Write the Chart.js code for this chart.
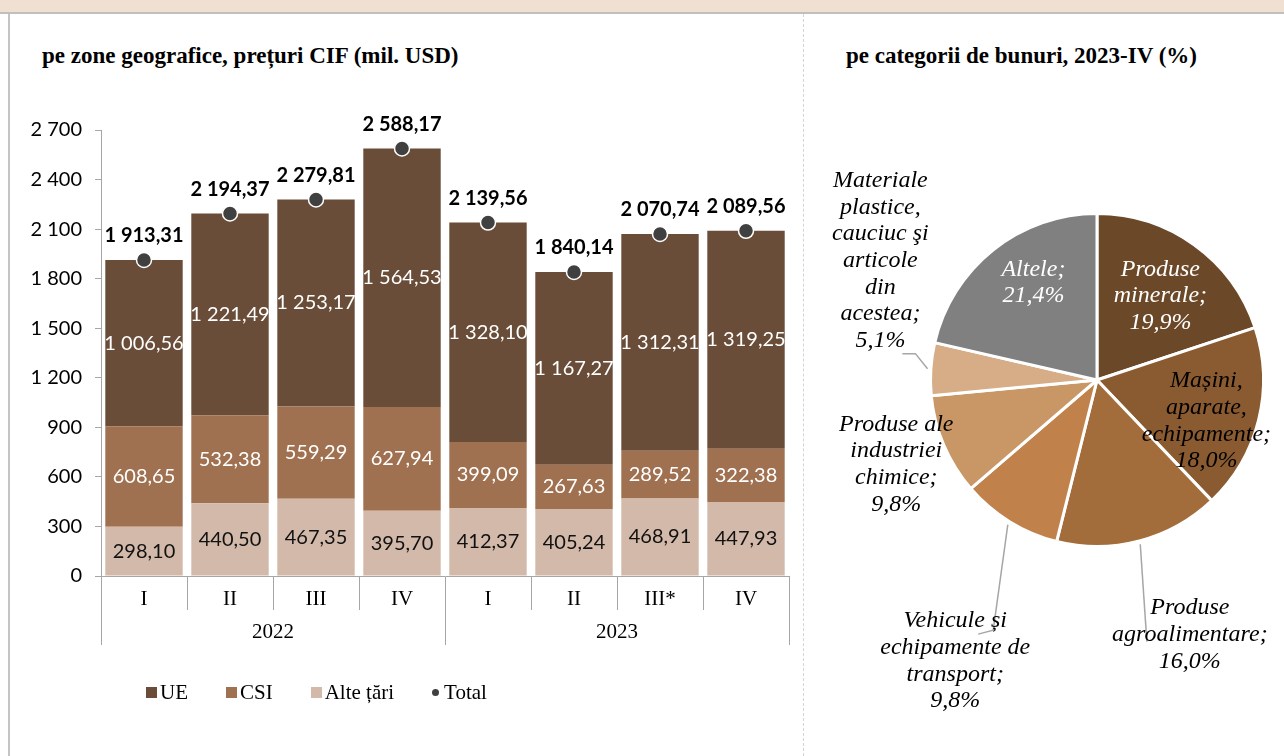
<!DOCTYPE html>
<html lang="ro">
<head>
<meta charset="UTF-8">
<title>Importuri</title>
<script src="https://cdn.jsdelivr.net/npm/chart.js@4.4.1/dist/chart.umd.min.js"></script>
<style>
    html, body { margin: 0; padding: 0; background: #fff; }
    body { width: 1284px; height: 756px; position: relative; overflow: hidden; }
    .header-strip { position: absolute; left: 0; top: 0; width: 1284px; height: 12px; background: #EFE0D1; border-bottom: 2px solid #BFBFBF; }
    .left-border { position: absolute; left: 8px; top: 14px; width: 2px; height: 742px; background: #C4C4C4; }
    .divider { position: absolute; left: 803px; top: 14px; height: 742px; border-left: 1px dashed #D4D4D4; }
    .panel-title { position: absolute; top: 43px; font: bold 23px "Liberation Serif", serif; line-height: 26px; color: #000; white-space: nowrap; }
    canvas { position: absolute; }
    #barLegend { position: absolute; left: 146px; top: 680px; display: flex; align-items: center; gap: 38px; font: 21px "Liberation Serif", serif; color: #000; }
    #barLegend .item { display: flex; align-items: center; }
    #barLegend .swatch { width: 11px; height: 11px; margin-right: 3px; }
    #barLegend .dot { width: 7px; height: 7px; border-radius: 50%; margin-right: 5px; }
</style>
</head>
<body>
<div class="header-strip"></div>
<div class="left-border"></div>
<div class="divider"></div>

<div class="panel-title" style="left:42px;">pe zone geografice, prețuri CIF (mil. USD)</div>
<div class="panel-title" style="left:846px;">pe categorii de bunuri, 2023-IV (%)</div>

<canvas id="barChart" width="790" height="676" style="left:10px; top:80px;"></canvas>
<div id="barLegend"></div>
<canvas id="pieChart" width="479" height="656" style="left:805px; top:100px;"></canvas>

<script>
// ========================================
// DATA
// ========================================
const quarterLabels = ['I', 'II', 'III', 'IV', 'I', 'II', 'III*', 'IV'];
const yearLabels = ['2022', '2023'];
const quartersPerYear = [4, 4];

const ueValues = [1006.56, 1221.49, 1253.17, 1564.53, 1328.10, 1167.27, 1312.31, 1319.25];
const csiValues = [608.65, 532.38, 559.29, 627.94, 399.09, 267.63, 289.52, 322.38];
const alteValues = [298.10, 440.50, 467.35, 395.70, 412.37, 405.24, 468.91, 447.93];
const totalValues = [1913.31, 2194.37, 2279.81, 2588.17, 2139.56, 1840.14, 2070.74, 2089.56];

const yTickValues = [0, 300, 600, 900, 1200, 1500, 1800, 2100, 2400, 2700];

const pieLabels = [
    ['Produse', 'minerale;'],
    ['Mașini,', 'aparate,', 'echipamente;'],
    ['Produse', 'agroalimentare;'],
    ['Vehicule și', 'echipamente de', 'transport;'],
    ['Produse ale', 'industriei', 'chimice;'],
    ['Materiale', 'plastice,', 'cauciuc şi', 'articole', 'din', 'acestea;'],
    ['Altele;']
];
const pieValues = [19.9, 18.0, 16.0, 9.8, 9.8, 5.1, 21.4];

// ========================================
// STYLE
// ========================================
const colors = {
    ue: '#694D38',
    csi: '#A07150',
    alte: '#D2B9A9',
    total: '#404040',
    axis: '#A6A6A6'
};
const pieColors = ['#6B4827', '#8A5A30', '#A36D3B', '#C0824A', '#C99766', '#D6AD86', '#808080'];

// label placement along the slice mid-angle (fraction of radius) plus a pixel nudge
const pieLabelStyle = [
    { dist: 0.63, nudge: [2, 1], color: '#fff' },
    { dist: 0.69, nudge: [-2, 13], color: '#000' },
    { dist: 1.60, nudge: [25, -3], color: '#000', leader: [[-43, 7]] },
    { dist: 1.85, nudge: [20, 19], color: '#000', leader: [[38, -31], [23, -27]] },
    { dist: 1.31, nudge: [0, -1], color: '#000' },
    { dist: 1.40, nudge: [16, -104], color: '#000', leader: [[35, 93], [22, 93]] },
    { dist: 0.70, nudge: [9, -6], color: '#fff' }
];

Chart.defaults.font.family = 'Lato';
Chart.defaults.color = '#000';

// ========================================
// UTILITY FUNCTIONS
// ========================================
function formatNumber(num, decimals) {
    const parts = num.toFixed(decimals).split('.');
    parts[0] = parts[0].replace(/\B(?=(\d{3})+(?!\d))/g, '\u00a0');
    return parts.join(',');
}

// ========================================
// PLUGINS
// ========================================
const barLabelPlugin = {
    id: 'barLabels',
    afterDatasetsDraw(chart) {
        const ctx = chart.ctx;
        ctx.save();
        ctx.textAlign = 'center';
        ctx.textBaseline = 'middle';
        chart.data.datasets.forEach((ds, i) => {
            const meta = chart.getDatasetMeta(i);
            meta.data.forEach((el, j) => {
                const value = ds.data[j];
                if (ds.type === 'line') {
                    ctx.font = 'bold 20px Lato';
                    ctx.fillStyle = '#000';
                    ctx.fillText(formatNumber(value, 2), el.x, el.y - 24);
                } else {
                    const p = el.getProps(['x', 'y', 'base'], true);
                    ctx.font = '20px Lato';
                    ctx.fillStyle = ds.labelColor;
                    ctx.fillText(formatNumber(value, 2), p.x, (p.y + p.base) / 2);
                }
            });
        });
        ctx.restore();
    }
};

const yearGroupPlugin = {
    id: 'yearGroups',
    afterDraw(chart) {
        const xScale = chart.scales.x;
        const ctx = chart.ctx;
        const step = xScale.width / quarterLabels.length;
        ctx.save();
        ctx.strokeStyle = colors.axis;
        ctx.lineWidth = 1;
        ctx.font = '21px "Liberation Serif"';
        ctx.fillStyle = '#000';
        ctx.textAlign = 'center';
        ctx.textBaseline = 'middle';
        let start = 0;
        yearLabels.forEach((year, k) => {
            const count = quartersPerYear[k];
            const left = xScale.getPixelForValue(start) - step / 2;
            const right = xScale.getPixelForValue(start + count - 1) + step / 2;
            [left, right].forEach(px => {
                const xx = Math.round(px) + 0.5;
                ctx.beginPath();
                ctx.moveTo(xx, xScale.top + 34);
                ctx.lineTo(xx, xScale.top + 69);
                ctx.stroke();
            });
            ctx.fillText(year, (left + right) / 2, xScale.top + 56);
            start += count;
        });
        ctx.restore();
    }
};

const pieLabelPlugin = {
    id: 'pieLabels',
    afterDatasetsDraw(chart) {
        const ctx = chart.ctx;
        const meta = chart.getDatasetMeta(0);
        ctx.save();
        ctx.font = 'italic 24px "Liberation Serif"';
        ctx.textAlign = 'center';
        ctx.textBaseline = 'middle';
        meta.data.forEach((arc, i) => {
            const p = arc.getProps(['x', 'y', 'startAngle', 'endAngle', 'outerRadius'], true);
            const style = pieLabelStyle[i];
            const mid = (p.startAngle + p.endAngle) / 2;
            const ax = p.x + Math.cos(mid) * p.outerRadius * style.dist + style.nudge[0];
            const ay = p.y + Math.sin(mid) * p.outerRadius * style.dist + style.nudge[1];

            if (style.leader) {
                ctx.strokeStyle = colors.axis;
                ctx.lineWidth = 1.5;
                ctx.beginPath();
                ctx.moveTo(p.x + Math.cos(mid) * p.outerRadius * 1.02, p.y + Math.sin(mid) * p.outerRadius * 1.02);
                style.leader.forEach(pt => ctx.lineTo(ax + pt[0], ay + pt[1]));
                ctx.stroke();
            }

            const lines = pieLabels[i].concat([formatNumber(pieValues[i], 1) + '%']);
            const lineHeight = 26.7;
            const top = ay - (lines.length - 1) * lineHeight / 2;
            ctx.fillStyle = style.color;
            lines.forEach((line, k) => ctx.fillText(line, ax, top + k * lineHeight));
        });
        ctx.restore();
    }
};

// ========================================
// INITIALIZE CHARTS
// ========================================
document.addEventListener('DOMContentLoaded', function() {
    initBarChart();
    initPieChart();
});

function initBarChart() {
    const ctx = document.getElementById('barChart');

    const chart = new Chart(ctx, {
        type: 'bar',
        data: {
            labels: quarterLabels,
            datasets: [
                {
                    label: 'Alte țări',
                    data: alteValues,
                    backgroundColor: colors.alte,
                    labelColor: '#111',
                    stack: 'zone',
                    order: 1
                },
                {
                    label: 'CSI',
                    data: csiValues,
                    backgroundColor: colors.csi,
                    labelColor: '#fff',
                    stack: 'zone',
                    order: 1
                },
                {
                    label: 'UE',
                    data: ueValues,
                    backgroundColor: colors.ue,
                    labelColor: '#fff',
                    stack: 'zone',
                    order: 1
                },
                {
                    type: 'line',
                    label: 'Total',
                    data: totalValues,
                    showLine: false,
                    stack: 'total',
                    order: 0,
                    pointRadius: 7.5,
                    pointBackgroundColor: colors.total,
                    pointBorderColor: '#fff',
                    pointBorderWidth: 1.5,
                    backgroundColor: colors.total
                }
            ]
        },
        options: {
            responsive: false,
            animation: false,
            layout: {
                padding: { top: 50, right: 11, left: 0, bottom: 0 }
            },
            datasets: {
                bar: {
                    categoryPercentage: 1,
                    barPercentage: 0.9
                }
            },
            plugins: {
                legend: { display: false },
                tooltip: { enabled: false }
            },
            scales: {
                x: {
                    stacked: true,
                    afterFit(scale) { scale.height = 180; },
                    border: { display: true, color: colors.axis, width: 1 },
                    grid: {
                        offset: true,
                        drawOnChartArea: false,
                        drawTicks: true,
                        tickLength: 34,
                        color: colors.axis
                    },
                    ticks: {
                        padding: -23,
                        font: { family: 'Liberation Serif', size: 21 },
                        color: '#000'
                    }
                },
                y: {
                    stacked: true,
                    min: 0,
                    max: yTickValues[yTickValues.length - 1],
                    afterFit(scale) { scale.width = 91; },
                    afterBuildTicks(scale) {
                        scale.ticks = yTickValues.map(v => ({ value: v }));
                    },
                    border: { display: true, color: colors.axis, width: 1 },
                    grid: {
                        drawOnChartArea: false,
                        drawTicks: true,
                        tickLength: 6,
                        color: colors.axis
                    },
                    ticks: {
                        padding: 13,
                        font: { size: 20 },
                        color: '#000',
                        callback: value => formatNumber(value, 0)
                    }
                }
            }
        },
        plugins: [barLabelPlugin, yearGroupPlugin]
    });

    buildBarLegend(chart);
}

// legend in the order UE, CSI, Alte țări, Total
function buildBarLegend(chart) {
    const legend = document.getElementById('barLegend');
    const order = [2, 1, 0, 3];
    order.forEach(i => {
        const ds = chart.data.datasets[i];
        const item = document.createElement('div');
        item.className = 'item';
        const mark = document.createElement('span');
        mark.className = ds.type === 'line' ? 'dot' : 'swatch';
        mark.style.background = ds.backgroundColor;
        const text = document.createElement('span');
        text.textContent = ds.label;
        item.appendChild(mark);
        item.appendChild(text);
        legend.appendChild(item);
    });
}

function initPieChart() {
    const ctx = document.getElementById('pieChart');

    new Chart(ctx, {
        type: 'pie',
        data: {
            labels: pieLabels.map(l => l.join(' ')),
            datasets: [{
                data: pieValues,
                backgroundColor: pieColors,
                borderColor: '#fff',
                borderWidth: 3
            }]
        },
        options: {
            responsive: false,
            animation: false,
            layout: {
                padding: { left: 124, right: 19, top: 112, bottom: 208 }
            },
            plugins: {
                legend: { display: false },
                tooltip: { enabled: false }
            }
        },
        plugins: [pieLabelPlugin]
    });
}
</script>
</body>
</html>
